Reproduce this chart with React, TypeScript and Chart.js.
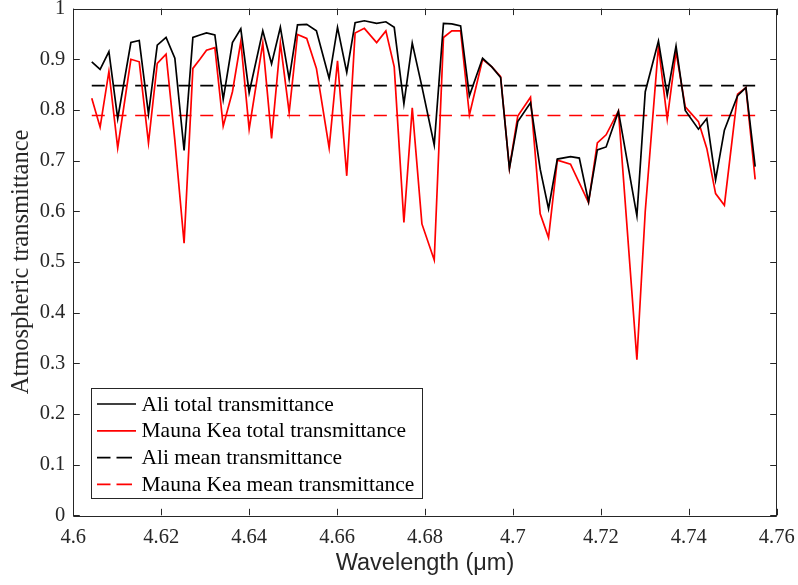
import React, { useEffect, useRef } from "react";
import { Chart, registerables } from "chart.js";

Chart.register(...registerables);

const wavelengths = [
  4.6042, 4.6061, 4.6081, 4.6101, 4.6131, 4.615, 4.6171, 4.6191, 4.6211, 4.6231,
  4.6252, 4.6272, 4.6288, 4.6303, 4.6322, 4.6341, 4.6362, 4.6381, 4.64, 4.6431,
  4.6451, 4.6471, 4.6491, 4.651, 4.6531, 4.6553, 4.6582, 4.6601, 4.6622, 4.6641,
  4.6662, 4.669, 4.6711, 4.673, 4.6752, 4.6771, 4.6793, 4.6821, 4.6842, 4.6861,
  4.6881, 4.6901, 4.6931, 4.6952, 4.6972, 4.6992, 4.7011, 4.704, 4.7062, 4.7081,
  4.7101, 4.7131, 4.7151, 4.7172, 4.7192, 4.7212, 4.724, 4.7282, 4.7301, 4.7331,
  4.7351, 4.7371, 4.7392, 4.7422, 4.7441, 4.7461, 4.7481, 4.7511, 4.753, 4.7551,
];

const aliTotal = [
  0.895, 0.88, 0.915, 0.783, 0.933, 0.937, 0.792, 0.928, 0.943, 0.902,
  0.72, 0.943, 0.948, 0.952, 0.948, 0.821, 0.933, 0.96, 0.834, 0.956,
  0.891, 0.963, 0.861, 0.968, 0.969, 0.956, 0.862, 0.963, 0.874, 0.972,
  0.976, 0.971, 0.974, 0.963, 0.812, 0.932, 0.846, 0.731, 0.971, 0.97,
  0.966, 0.828, 0.902, 0.885, 0.864, 0.685, 0.777, 0.814, 0.683, 0.605,
  0.703, 0.708, 0.705, 0.619, 0.721, 0.727, 0.797, 0.591, 0.836, 0.936,
  0.829, 0.926, 0.799, 0.762, 0.783, 0.662, 0.76, 0.828, 0.844, 0.688,
];

const maunaKeaTotal = [
  0.823, 0.766, 0.876, 0.725, 0.9, 0.895, 0.735, 0.892, 0.91, 0.74,
  0.537, 0.882, 0.9, 0.918, 0.923, 0.768, 0.836, 0.935, 0.762, 0.932,
  0.744, 0.932, 0.795, 0.949, 0.941, 0.882, 0.725, 0.897, 0.67, 0.952,
  0.961, 0.933, 0.956, 0.885, 0.578, 0.804, 0.575, 0.504, 0.943, 0.956,
  0.956, 0.79, 0.9, 0.885, 0.866, 0.685, 0.788, 0.825, 0.595, 0.548,
  0.701, 0.693, 0.656, 0.617, 0.735, 0.751, 0.798, 0.307, 0.6, 0.926,
  0.782, 0.915, 0.806, 0.777, 0.724, 0.635, 0.612, 0.831, 0.844, 0.663,
];

const aliMean = 0.848;
const maunaKeaMean = 0.789;

const xTicks = [4.6, 4.62, 4.64, 4.66, 4.68, 4.7, 4.72, 4.74, 4.76];
const yTicks = [0, 0.1, 0.2, 0.3, 0.4, 0.5, 0.6, 0.7, 0.8, 0.9, 1];

const seriesNames = [
  "Ali total transmittance",
  "Mauna Kea total transmittance",
  "Ali mean transmittance",
  "Mauna Kea mean transmittance",
];
const seriesColors = ["#000000", "#ff0000", "#000000", "#ff0000"];
const seriesDashed = [false, false, true, true];

const AXIS_COLOR = "#262626";
const SERIF = "'Liberation Serif', 'Times New Roman', serif";
const SANS = "'Liberation Sans', Arial, sans-serif";

const fmt = (v: number) => String(Number(v.toFixed(2)));

const boxPlugin = {
  id: "matlabBox",
  afterDraw(chart: any) {
    const { ctx, chartArea } = chart;
    const { left, right, top, bottom } = chartArea;
    const xs = chart.scales.x;
    const ys = chart.scales.y;
    ctx.save();
    ctx.strokeStyle = AXIS_COLOR;
    ctx.lineWidth = 1;
    ctx.setLineDash([]);
    ctx.beginPath();
    ctx.rect(Math.round(left) + 0.5, Math.round(top) + 0.5, Math.round(right - left), Math.round(bottom - top));
    ctx.stroke();
    const tl = 6.5;
    ctx.beginPath();
    xTicks.forEach((v) => {
      const px = Math.round(xs.getPixelForValue(v)) + 0.5;
      ctx.moveTo(px, bottom);
      ctx.lineTo(px, bottom - tl);
      ctx.moveTo(px, top);
      ctx.lineTo(px, top + tl);
    });
    yTicks.forEach((v) => {
      const py = Math.round(ys.getPixelForValue(v)) + 0.5;
      ctx.moveTo(left, py);
      ctx.lineTo(left + tl, py);
      ctx.moveTo(right, py);
      ctx.lineTo(right - tl, py);
    });
    ctx.stroke();

    // legend
    const lx = 91.5, ly = 388.5, lw = 331, lh = 110;
    ctx.fillStyle = "#ffffff";
    ctx.fillRect(lx, ly, lw, lh);
    ctx.strokeStyle = AXIS_COLOR;
    ctx.lineWidth = 1;
    ctx.strokeRect(lx, ly, lw, lh);
    ctx.font = `21.5px ${SERIF}`;
    ctx.textBaseline = "middle";
    ctx.textAlign = "left";
    seriesNames.forEach((name, i) => {
      const cy = 404 + i * 26.8;
      ctx.strokeStyle = seriesColors[i];
      ctx.lineWidth = 1.7;
      ctx.beginPath();
      if (seriesDashed[i]) {
        ctx.moveTo(97, cy);
        ctx.lineTo(110.5, cy);
        ctx.moveTo(116.5, cy);
        ctx.lineTo(132, cy);
      } else {
        ctx.moveTo(97, cy);
        ctx.lineTo(136, cy);
      }
      ctx.stroke();
      ctx.fillStyle = "#000000";
      ctx.fillText(name, 141.5, cy + 1);
    });
    ctx.restore();
  },
};

export default function App() {
  const canvasRef = useRef<HTMLCanvasElement | null>(null);

  useEffect(() => {
    if (!canvasRef.current) return;
    const first = wavelengths[0];
    const last = wavelengths[wavelengths.length - 1];
    const chart = new Chart(canvasRef.current, {
      type: "line",
      data: {
        datasets: [
          {
            label: seriesNames[0],
            data: wavelengths.map((x, i) => ({ x, y: aliTotal[i] })),
            borderColor: seriesColors[0],
            borderWidth: 1.7,
            pointRadius: 0,
            tension: 0,
          },
          {
            label: seriesNames[1],
            data: wavelengths.map((x, i) => ({ x, y: maunaKeaTotal[i] })),
            borderColor: seriesColors[1],
            borderWidth: 1.7,
            pointRadius: 0,
            tension: 0,
          },
          {
            label: seriesNames[2],
            data: [
              { x: first, y: aliMean },
              { x: last, y: aliMean },
            ],
            borderColor: seriesColors[2],
            borderWidth: 1.7,
            borderDash: [13, 8.7],
            pointRadius: 0,
          },
          {
            label: seriesNames[3],
            data: [
              { x: first, y: maunaKeaMean },
              { x: last, y: maunaKeaMean },
            ],
            borderColor: seriesColors[3],
            borderWidth: 1.7,
            borderDash: [13, 8.7],
            pointRadius: 0,
          },
        ],
      },
      options: {
        animation: false,
        responsive: true,
        maintainAspectRatio: false,
        layout: { padding: { left: 0, right: 21.3, top: 8.6, bottom: 0 } },
        plugins: {
          legend: { display: false },
          tooltip: { enabled: false },
        },
        scales: {
          x: {
            type: "linear",
            min: 4.6,
            max: 4.76,
            grid: { display: false, drawTicks: false },
            border: { display: false },
            afterBuildTicks: (scale: any) => {
              scale.ticks = xTicks.map((v) => ({ value: v }));
            },
            afterFit: (scale: any) => {
              scale.height = 69.7;
              scale.paddingLeft = 0;
              scale.paddingRight = 0;
            },
            ticks: {
              padding: 10,
              maxRotation: 0,
              autoSkip: false,
              color: AXIS_COLOR,
              font: { family: SERIF, size: 20.5 },
              callback: (v: any) => fmt(Number(v)),
            },
            title: {
              display: true,
              text: "Wavelength (μm)",
              color: AXIS_COLOR,
              font: { family: SANS, size: 23.5 },
              padding: { top: 0, bottom: 7 },
            },
          },
          y: {
            type: "linear",
            min: 0,
            max: 1,
            grid: { display: false, drawTicks: false },
            border: { display: false },
            afterBuildTicks: (scale: any) => {
              scale.ticks = yTicks.map((v) => ({ value: v }));
            },
            afterFit: (scale: any) => {
              scale.width = 73.3;
              scale.paddingTop = 0;
              scale.paddingBottom = 0;
            },
            ticks: {
              padding: 8,
              autoSkip: false,
              color: AXIS_COLOR,
              font: { family: SERIF, size: 20.5 },
              callback: (v: any) => fmt(Number(v)),
            },
            title: {
              display: true,
              text: "Atmospheric transmittance",
              color: AXIS_COLOR,
              font: { family: SERIF, size: 24.5 },
              padding: { top: 7, bottom: 0 },
            },
          },
        },
      },
      plugins: [boxPlugin],
    } as any);
    return () => chart.destroy();
  }, []);

  return (
    <div style={{ position: "absolute", left: 0, top: 0, width: 798, height: 585, background: "#fff" }}>
      <canvas ref={canvasRef} />
    </div>
  );
}
